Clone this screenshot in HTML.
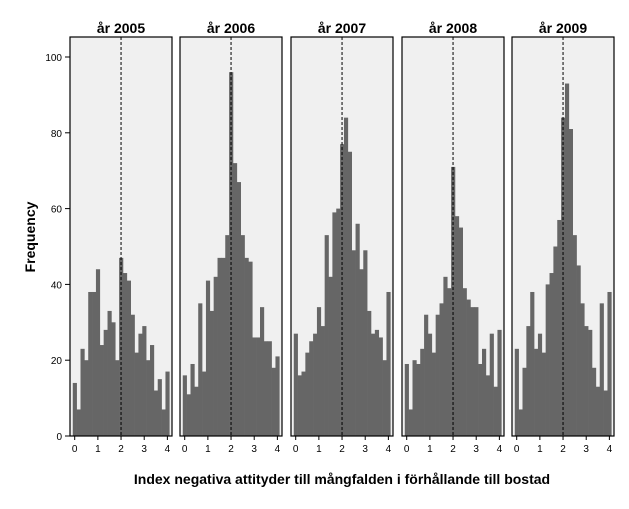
<!DOCTYPE html>
<html><head><meta charset="utf-8"><style>
body{margin:0;background:#fff;font-family:"Liberation Sans",sans-serif}
</style></head><body>
<svg id="c" width="629" height="504" xmlns="http://www.w3.org/2000/svg">
<text x="342" y="484" font-size="14" font-weight="bold" text-anchor="middle">Index negativa attityder till mångfalden i förhållande till bostad</text>
<text transform="translate(35,237) rotate(-90)" font-size="14" font-weight="bold" text-anchor="middle">Frequency</text>
</svg>
<script>
const years=["år 2005","år 2006","år 2007","år 2008","år 2009"];
const v2005=[14,7,23,20,38,38,44,24,28,33,30,20,47,43,41,32,22,27,29,20,24,12,15,7,17];
const v2006=[16,11,19,13,35,17,41,33,42,47,47,53,96,72,67,53,47,46,26,26,34,25,25,18,21];
const v2007=[27,16,17,22,25,27,34,29,53,42,59,60,77,84,75,49,56,44,49,33,27,28,26,20,38];
const v2008=[19,7,20,19,23,32,27,22,32,35,42,39,71,58,55,39,36,34,34,19,23,16,27,13,28];
const v2009=[23,7,18,29,38,23,27,22,40,43,50,57,84,93,81,53,45,35,29,28,18,13,35,12,38];
const series=[v2005,v2006,v2007,v2008,v2009];
const yTicks=[0,20,40,60,80,100];
const xTicks=[0,1,2,3,4];
const binW=1/6, refLine=2;
const svg=document.getElementById('c');const NS="http://www.w3.org/2000/svg";
const frameX=[70,180,291,402,512], fw=102, plotTop=37, plotBot=436;
const y=v=>plotBot-v*3.79;
function mk(t,a){const e=document.createElementNS(NS,t);for(const k in a)e.setAttribute(k,a[k]);svg.appendChild(e);return e;}
yTicks.forEach(t=>{
 const l=mk('line',{x1:65,x2:70,y1:y(t),y2:y(t),stroke:'#000'});
 
 
 const tx=mk('text',{x:62,y:y(t)+4,'font-size':10,'text-anchor':'end'});tx.textContent=t;
 
 
});
series.forEach((vals,p)=>{
 const fx=frameX[p];const x=u=>fx+4.7+u*23.17;
 const bg=mk('rect',{x:fx,y:plotTop,width:fw,height:plotBot-plotTop,fill:'#f0f0f0'});
 
 
 vals.forEach((v,i)=>{
  const c=i*binW;const b=mk('rect',{x:x(c-binW/2),y:y(v),width:x(binW)-x(0)+0.3,height:plotBot-y(v),fill:'#666666'});
  
  
 });
 const d=mk('line',{x1:x(refLine),x2:x(refLine),y1:plotTop,y2:plotBot,stroke:'#000','stroke-dasharray':'3,2','stroke-width':1});
 
 
 const fr=mk('rect',{x:fx,y:plotTop,width:fw,height:plotBot-plotTop,fill:'none',stroke:'#000','stroke-width':1.2});
 
 
 const tt=mk('text',{x:fx+fw/2,y:33,'font-size':14,'font-weight':'bold','text-anchor':'middle'});tt.textContent=years[p];
 
 
 xTicks.forEach(t=>{
  const l=mk('line',{x1:x(t),x2:x(t),y1:plotBot,y2:plotBot+4,stroke:'#000'});
  
  
  const tx=mk('text',{x:x(t),y:plotBot+16,'font-size':10,'text-anchor':'middle'});tx.textContent=t;
  
  
 });
});
</script>
</body></html>
